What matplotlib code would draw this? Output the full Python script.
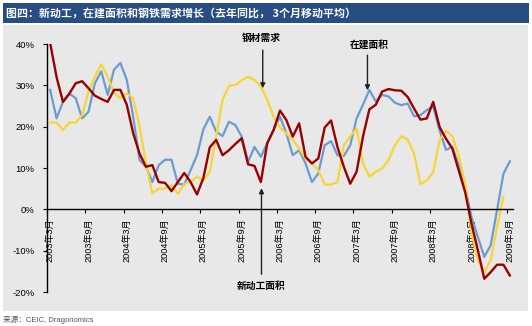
import numpy as np
import matplotlib
matplotlib.use('Agg')
import matplotlib.pyplot as plt
from matplotlib.patches import Rectangle

plt.rcParams['font.family'] = ['Liberation Sans', 'Noto Sans CJK SC']

# monthly, 2003-3 .. 2009-3, yoy %, 3mma
new_starts = [40.2, 32, 26, 28, 30.5, 31, 29.3, 27.5, 26.7, 26, 28.9, 28.9,
              25.3, 18.4, 13.5, 10.3, 10.7, 6.6, 6.4, 4.4, 6.6, 8.8, 6.6, 3.6,
              7.6, 15, 16.8, 13.1, 14.3, 15.8, 17.2, 10.9, 10.5, 6.6, 16, 19.2,
              23.9, 21.6, 17.6, 20.8, 12.7, 11.1, 12.3, 19.8, 21.5, 15.1, 10.3, 6.2,
              9.1, 17.6, 24.2, 25.3, 28.5, 29.1, 28.8, 28.7, 27.2, 24.4, 21.7, 22,
              26, 19.9, 17.1, 14.7, 9.4, 4.2, -3.5, -9.9, -16.8, -15.2, -13.4, -13.4,
              -16]
under_constr = [28.9, 22, 26, 28, 26.9, 22, 23.6, 30.5, 33.4, 27.7, 33.8, 35.4,
                31.3, 22.4, 11.9, 10.3, 6.6, 10.7, 12, 12, 6.2, 6, 9.5, 13.1,
                19.4, 22.4, 18.8, 17.7, 21.2, 20.4, 17.6, 11.5, 15.1, 12.7, 16, 19.2,
                22.4, 18.4, 13.1, 14.3, 11.1, 6.6, 8.7, 15.5, 16.5, 13.1, 12.9, 15.5,
                22, 25.3, 28.9, 26.1, 27.7, 27.3, 25.8, 25.2, 25.6, 22.5, 22.8, 24,
                24.9, 19.1, 14.4, 15.1, 10.7, 5.4, -1.9, -6.7, -11.5, -8.7, -0.2, 8.6,
                11.6]
steel = [21, 21, 19.2, 21, 21, 22.8, 28.5, 32.1, 35.1, 32.1, 28.1, 26.9,
         28.1, 26.9, 20, 11.1, 3.8, 5, 5, 5.8, 3.8, 6.1, 6.6, 7.9,
         7, 9, 17.6, 26.5, 29.9, 30.1, 31.2, 32.1, 31.3, 29.7, 26.5, 22.4,
         19.8, 18.4, 16.8, 14.7, 12.3, 11.1, 9.5, 6, 6, 6.6, 15.5, 17.6,
         19.6, 11.1, 7.9, 9.1, 9.9, 11.9, 15.5, 17.7, 16.9, 13.5, 6.1, 7,
         9, 16.7, 19, 17.7, 13.1, 6.2, -5.9, -12.3, -15.2, -12.3, -4.3, 3,
         np.nan]

tick_labels = ['2003年3月', '2003年9月', '2004年3月', '2004年9月', '2005年3月',
               '2005年9月', '2006年3月', '2006年9月', '2007年3月', '2007年9月',
               '2008年3月', '2008年9月', '2009年3月']

W, H = 532, 326
fig = plt.figure(figsize=(W / 100, H / 100), dpi=100)
fig.patch.set_facecolor('white')

# header bar and grey panel
fig.patches.append(Rectangle((3 / W, 1 - 23 / H), 526 / W, 20 / H, transform=fig.transFigure,
                             facecolor='#274d83', edgecolor='none', zorder=-10))
fig.patches.append(Rectangle((3 / W, 1 - 311 / H), 525 / W, 286 / H, transform=fig.transFigure,
                             facecolor='#e8e8e8', edgecolor='none', zorder=-10))
fig.text(6 / W, 1 - 13.5 / H, '图四：新动工，在建面积和钢铁需求增长（去年同比， 3个月移动平均）',
         color='white', fontsize=7.9, fontweight='bold', family=['Noto Sans CJK SC'], va='center')
fig.text(3 / W, 1 - 320 / H, '来源：CEIC, Dragonomics', fontsize=5.5, color='#555555', va='center')

ax = fig.add_axes([47 / W, 1 - 292 / H, 466 / W, 248 / H])
ax.set_zorder(5)
ax.set_facecolor('none')

x = np.arange(len(new_starts)) + 0.5
ax.plot(x, under_constr, color='#6b9bd1', lw=1.6)
ax.plot(x, steel, color='#f7d533', lw=1.6)
ax.plot(x, new_starts, color='#990000', lw=1.7)

ax.set_xlim(0, len(new_starts))
ax.set_ylim(-20, 40)

for s in ['top', 'right']:
    ax.spines[s].set_visible(False)
ax.spines['bottom'].set_position(('data', 0))
ax.spines['bottom'].set_linewidth(1)
ax.spines['left'].set_linewidth(1)

ax.set_yticks(np.arange(-20, 41, 10))
ax.set_yticklabels([f'{v}%' for v in range(-20, 41, 10)], fontsize=6.8)
ax.tick_params(axis='y', direction='out', length=3, pad=6)

major = np.arange(0, len(new_starts), 6)
ax.set_xticks(major)
ax.set_xticklabels([])
ax.set_xticks(major + 0.5, labels=tick_labels, minor=True)
ax.tick_params(axis='x', which='major', direction='out', length=3)
ax.tick_params(axis='x', which='minor', length=0, pad=6.5, labelsize=6.6, labelrotation=90)

arrow = dict(arrowstyle='-|>', color='#222222', lw=1, mutation_scale=7, shrinkA=0, shrinkB=0)
ax.annotate('', xy=(33.8, 29.3), xytext=(33.8, 38.5), arrowprops=arrow)
ax.text(33.6, 41.4, '钢材需求', ha='center', va='center', fontsize=7, fontweight='bold', clip_on=False)
ax.annotate('', xy=(50.2, 28.8), xytext=(50.2, 37.3), arrowprops=arrow)
ax.text(50.5, 39.7, '在建面积', ha='center', va='center', fontsize=7, fontweight='bold')
ax.annotate('', xy=(33.6, 5.1), xytext=(33.6, -15.7), arrowprops=arrow, annotation_clip=False)
ax.text(33.6, -18.6, '新动工面积', ha='center', va='center', fontsize=7, fontweight='bold', clip_on=False)

fig.savefig('out.png', dpi=100)
